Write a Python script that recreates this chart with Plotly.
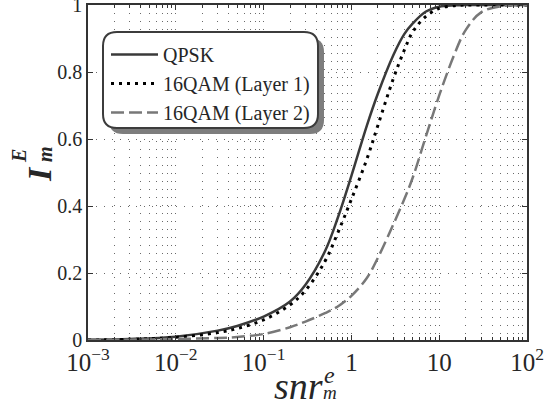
import plotly.graph_objects as go

# ---- data ----
snr = [0.001, 0.003, 0.01, 0.03, 0.05, 0.1, 0.2, 0.3, 0.5, 0.7, 1.0, 1.5, 2.0,
       3.0, 4.0, 5.0, 7.0, 10.0, 15.0, 20.0, 30.0, 50.0, 100.0]
qpsk = [0.001, 0.003, 0.010, 0.028, 0.042, 0.070, 0.115, 0.165, 0.265, 0.365,
        0.490, 0.640, 0.735, 0.850, 0.913, 0.945, 0.980, 0.995, 0.999, 1.0,
        1.0, 1.0, 1.0]
qam16_l1 = [0.001, 0.002, 0.008, 0.022, 0.034, 0.060, 0.105, 0.148, 0.235,
            0.320, 0.420, 0.540, 0.640, 0.780, 0.865, 0.920, 0.965, 0.990,
            0.998, 1.0, 1.0, 1.0, 1.0]
qam16_l2 = [0.0005, 0.001, 0.003, 0.006, 0.009, 0.018, 0.038, 0.055, 0.080,
            0.100, 0.132, 0.185, 0.245, 0.345, 0.420, 0.485, 0.605, 0.730,
            0.855, 0.925, 0.978, 0.996, 1.0]
series_names = ["QPSK", "16QAM (Layer 1)", "16QAM (Layer 2)"]
y_ticks = [0, 0.2, 0.4, 0.6, 0.8, 1]
y_ticklabels = ["0", "0.2", "0.4", "0.6", "0.8", "1"]

# ---- geometry helpers (pixel -> paper) ----
W, H = 551, 416
ML, MR, MT, MB = 88, 24, 5, 76
PW, PH = W - ML - MR, H - MT - MB


def px(x):
    return (x - ML) / PW


def py(y):
    return (H - MB - y) / PH


def rounded_rect(x0, y0, x1, y1, r):
    rx, ry = r / PW, r / PH
    X0, X1 = px(x0), px(x1)
    Y0, Y1 = py(y0), py(y1)  # Y0 top (larger), Y1 bottom
    return (f"M{X0 + rx},{Y0} L{X1 - rx},{Y0} Q{X1},{Y0} {X1},{Y0 - ry} "
            f"L{X1},{Y1 + ry} Q{X1},{Y1} {X1 - rx},{Y1} L{X0 + rx},{Y1} "
            f"Q{X0},{Y1} {X0},{Y1 + ry} L{X0},{Y0 - ry} Q{X0},{Y0} {X0 + rx},{Y0} Z")


FONT = "'Liberation Serif', 'Times New Roman', Times, serif"
TXT = "#262626"

fig = go.Figure()
fig.add_trace(go.Scatter(x=snr, y=qpsk, name=series_names[0], mode="lines",
                         line=dict(color="#3a3a3a", width=2.5, shape="spline",
                                   smoothing=1.0)))
fig.add_trace(go.Scatter(x=snr, y=qam16_l1, name=series_names[1], mode="lines",
                         line=dict(color="#000000", width=3, dash="3px,5px",
                                   shape="spline", smoothing=1.0)))
fig.add_trace(go.Scatter(x=snr, y=qam16_l2, name=series_names[2], mode="lines",
                         line=dict(color="#787878", width=2.5, dash="13px,5px",
                                   shape="spline", smoothing=1.0)))

GRIDDASH = "1px,7px"
GRIDCOL = "#6a6a6a"
grid = dict(showgrid=True, gridcolor=GRIDCOL, gridwidth=1, griddash=GRIDDASH)

fig.update_xaxes(type="log", range=[-3, 2], dtick=1, exponentformat="power",
                 showline=True, linecolor="#333333", linewidth=1.5,
                 mirror="allticks", ticks="inside", ticklen=5,
                 tickcolor="#333333", zeroline=False, ticklabeloverflow="allow",
                 automargin=False,
                 tickfont=dict(family=FONT, size=20, color=TXT),
                 minor=dict(dtick="D1", ticks="inside", ticklen=3,
                            tickcolor="#333333", showgrid=True,
                            gridcolor=GRIDCOL, gridwidth=1,
                            griddash=GRIDDASH),
                 **grid)
fig.update_yaxes(range=[0, 1], tickvals=y_ticks, ticktext=y_ticklabels,
                 showline=True, linecolor="#333333", linewidth=1.5,
                 mirror="allticks", ticks="inside", ticklen=5,
                 tickcolor="#333333", zeroline=False, ticklabeloverflow="allow",
                 automargin=False,
                 tickfont=dict(family=FONT, size=20, color=TXT), **grid)

# legend box with shadow
fig.add_shape(type="path", path=rounded_rect(109, 38, 324, 134, 14),
              xref="paper", yref="paper", fillcolor="#7d7d7d",
              line=dict(width=0), layer="above")
fig.add_shape(type="path", path=rounded_rect(103, 32, 318, 128, 14),
              xref="paper", yref="paper", fillcolor="white",
              line=dict(color="#3c3c3c", width=2), layer="above")

annots = [
    # y title I^E_m
    dict(text="<b><i>I</i></b>", x=px(39), y=py(174), size=34, angle=-90),
    dict(text="<b><i>E</i></b>", x=px(19), y=py(156), size=20, angle=-90),
    dict(text="<b><i>m</i></b>", x=px(45), y=py(154), size=20, angle=-90),
    # x title snr^e_m
    dict(text="<i>snr</i>", x=px(298), y=py(386), size=38, angle=0),
    dict(text="<i>e</i>", x=px(329), y=py(375), size=24, angle=0),
    dict(text="<i>m</i>", x=px(330), y=py(392), size=19, angle=0),
]
for a in annots:
    fig.add_annotation(text=a["text"], x=a["x"], y=a["y"], xref="paper",
                       yref="paper", showarrow=False, textangle=a["angle"],
                       xanchor="center", yanchor="middle",
                       font=dict(family=FONT, size=a["size"], color=TXT))

fig.update_layout(
    width=W, height=H,
    margin=dict(l=ML, r=MR, t=MT, b=MB, autoexpand=False),
    paper_bgcolor="white", plot_bgcolor="white",
    font=dict(family=FONT),
    showlegend=True,
    legend=dict(x=px(106), y=py(35), xanchor="left", yanchor="top",
                bgcolor="rgba(0,0,0,0)", borderwidth=0, itemwidth=47,
                tracegroupgap=0,
                font=dict(family=FONT, size=20, color=TXT)),
)

fig.write_html("out.html")
